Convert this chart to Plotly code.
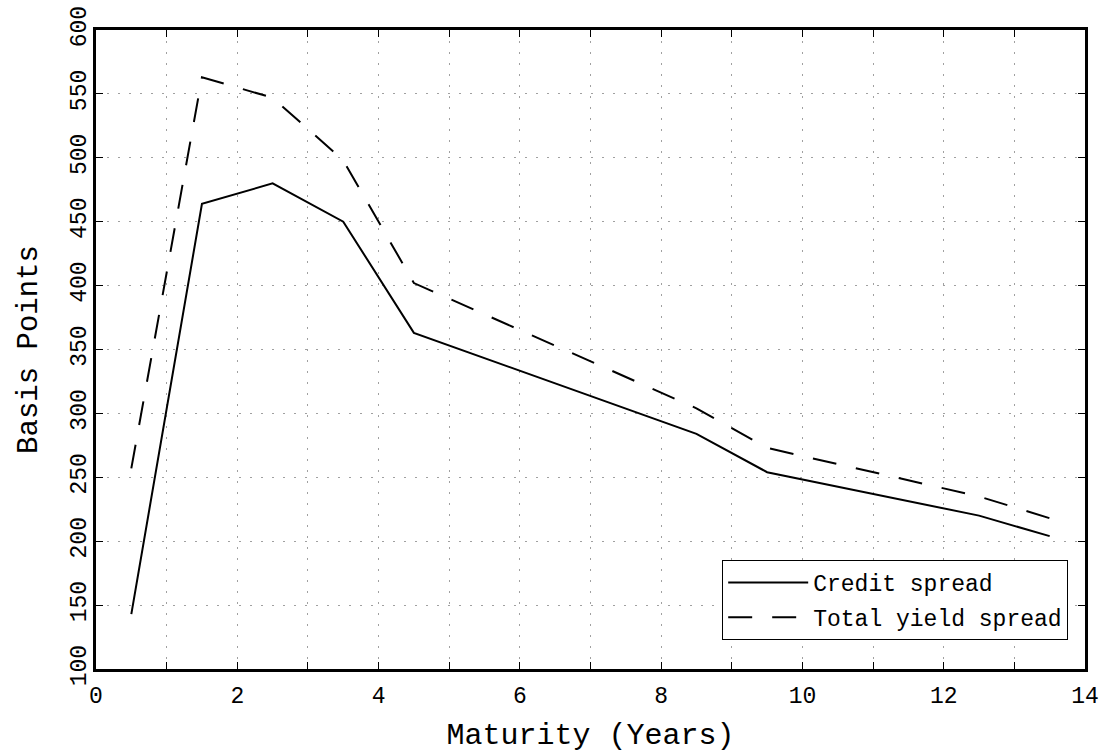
import plotly.graph_objects as go

# maturity (years) at each vertex of the curves
maturity = [0.5, 1.5, 2.5, 3.5, 4.5, 8.5, 9.5, 12.5, 13.5]
credit_spread = [143, 464, 480, 450, 363, 284, 254, 220, 204]
total_yield_spread = [257, 563, 547, 498, 402, 304, 273, 235, 218]

x_ticks = list(range(0, 15))
x_labels = [str(v) if v % 2 == 0 else '' for v in x_ticks]
y_ticks = list(range(100, 601, 50))

font = "Liberation Mono, Courier New, monospace"

fig = go.Figure()
fig.add_trace(go.Scatter(
    x=maturity, y=credit_spread, mode='lines', name='Credit spread',
    line=dict(color='black', width=2), legendgroup='a'
))
fig.add_trace(go.Scatter(
    x=maturity, y=total_yield_spread, mode='lines', name='Total yield spread',
    line=dict(color='black', width=2, dash='24px,20px'), legendgroup='b'
))

axis_common = dict(
    showline=True, linecolor='black', linewidth=3, mirror='ticks',
    ticks='inside', ticklen=7, tickcolor='black', tickwidth=1,
    showgrid=True, gridcolor='#a0a0a0', griddash='2px,9px', gridwidth=1,
    zeroline=False, automargin=False, ticklabeloverflow='allow',
    tickfont=dict(family=font, size=23, color='black'),
)

fig.update_layout(
    width=1110, height=753,
    margin=dict(l=96, r=25, t=30, b=84),
    paper_bgcolor='white', plot_bgcolor='white',
    font=dict(family=font, color='black'),
    xaxis=dict(
        range=[0, 14], tickvals=x_ticks, ticktext=x_labels, ticklabelstandoff=3,
        title=dict(text='Maturity (Years)', font=dict(family=font, size=30), standoff=18),
        **axis_common
    ),
    yaxis=dict(
        range=[100, 600], tickvals=y_ticks, tickangle=-90, ticklabelstandoff=-2,
        title=dict(text='Basis Points', font=dict(family=font, size=29), standoff=21),
        **axis_common
    ),
    legend=dict(
        x=0.983, y=0.108, xanchor='right', yanchor='middle',
        bgcolor='white', bordercolor='black', borderwidth=1,
        font=dict(family=font, size=23, color='black'),
        tracegroupgap=2, itemwidth=80,
    ),
    showlegend=True,
)

# drop the default 8px page margin so the figure fills the window
fig.write_html("out.html", config={'displayModeBar': False},
               post_script="document.body.style.margin='0';")
